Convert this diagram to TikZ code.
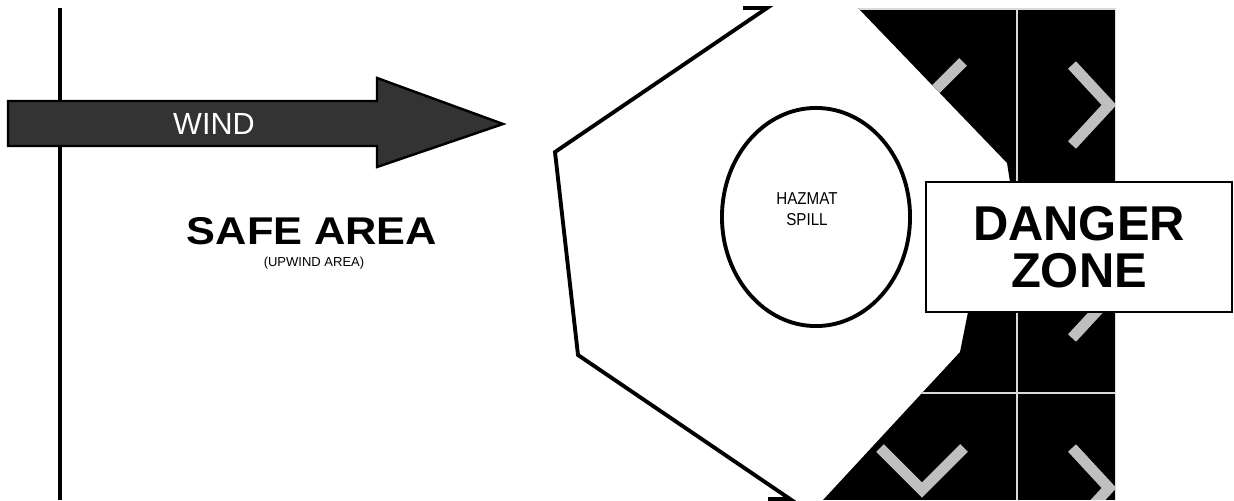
\documentclass[tikz,border=0pt]{standalone}
\usepackage{fontspec}
\setmainfont{Liberation Sans}
\newfontfamily\widesans[FakeStretch=1.12]{Liberation Sans}
\newfontfamily\narrowsans[FakeStretch=0.88]{Liberation Sans}
\usetikzlibrary{shapes.geometric}

\begin{document}
\begin{tikzpicture}[x=0.01cm, y=-0.01cm, line join=miter,
    outline/.style={line width=1.1pt},
    chevron/.style={draw=black!25, line width=3.1pt},
    gridline/.style={draw=black!15, line width=0.7pt}]
  \useasboundingbox (0,0) rectangle (1234,500);
  % upwind boundary
  \draw[outline] (60,8) -- (60,500);
  % danger zone with chevrons
  \begin{scope}
    \clip (858,8) -- (1115,8) -- (1115,500) -- (823,500) -- (960,352) -- (968,312) -- (1010,182) -- (1007,163) -- cycle;
    \fill[black] (800,0) rectangle (1120,500);
    \draw[gridline] (800,9) -- (1120,9);
    \draw[gridline] (1017,0) -- (1017,500);
    \draw[gridline] (800,393) -- (1120,393);
    \foreach \y in {65,258,448}
      \draw[chevron] (1072,\y) -- ++(37,40) -- ++(-37,40);
    \draw[chevron] (963,62) -- ++(-41,41) -- ++(41,41);
    \draw[chevron] (880,448) -- (922,490) -- (964,448);
  \end{scope}
  % spill site
  \draw[outline] (743,8) -- (767,8) -- (555,152) -- (578,355) -- (790,499) -- (768,499);
  \node[draw, ellipse, outline, minimum width=1.88cm, minimum height=2.18cm, inner sep=0pt] (spill) at (816,217) {};
  \node[align=center, font=\narrowsans\fontsize{4.9}{5.9}\selectfont] (spilltext) at (807,209) {HAZMAT\\SPILL};
  % wind arrow
  \draw[fill=black!80, line width=0.7pt] (8,101) -- (377,101) -- (377,78) -- (503,124) -- (377,167) -- (377,146) -- (8,146) -- cycle;
  \node[white, font=\fontsize{8.7}{10}\selectfont] (wind) at (214,124) {WIND};
  \node[anchor=base, font=\widesans\bfseries\fontsize{11}{13}\selectfont] (safe) at (312,244) {SAFE AREA};
  \node[anchor=base, font=\fontsize{3.7}{4}\selectfont] (upwind) at (314,266) {(UPWIND AREA)};
  \node[draw, fill=white, line width=0.7pt, minimum width=3.06cm, minimum height=1.30cm, align=center, font=\bfseries\fontsize{13.9}{13.4}\selectfont] (danger) at (1079,247) {DANGER\\ZONE};
\end{tikzpicture}
\end{document}
